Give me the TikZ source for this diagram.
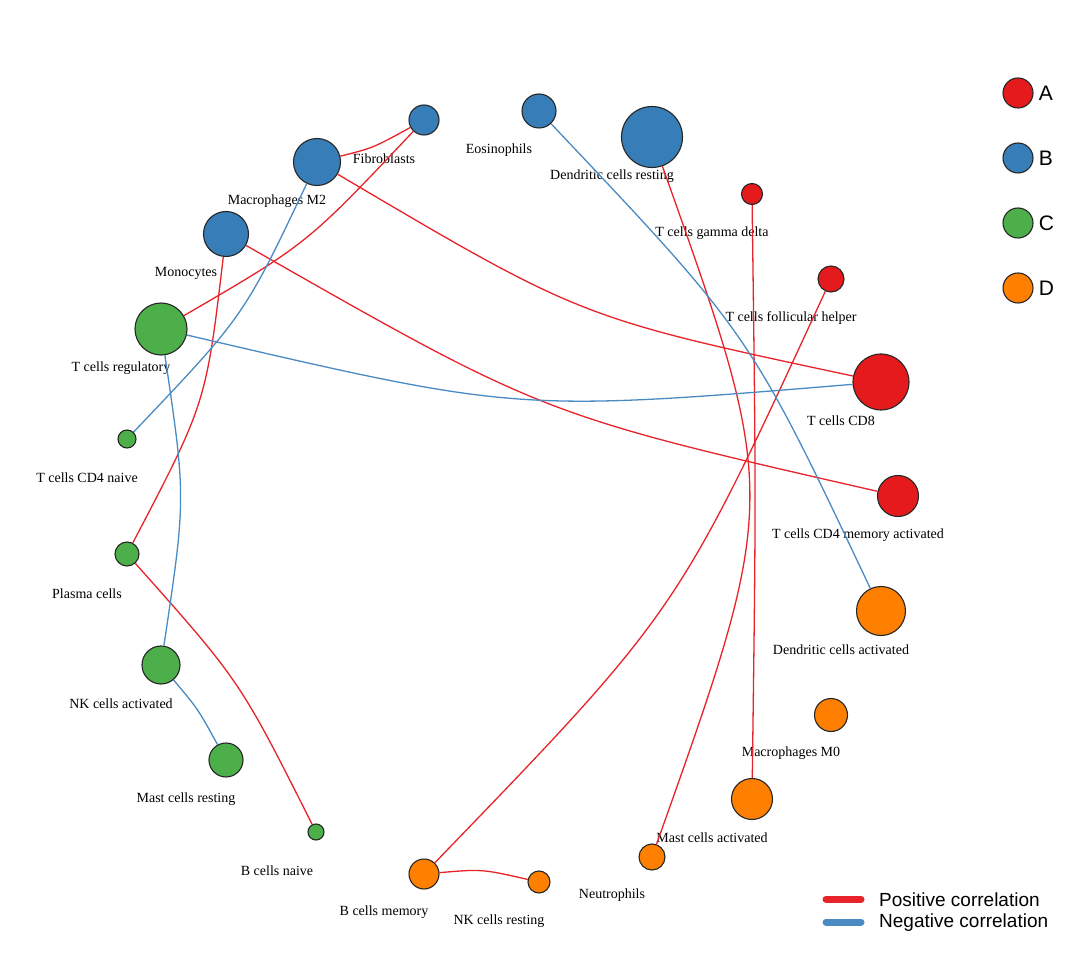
\documentclass[tikz,border=0pt]{standalone}
\usepackage{fontspec}
\setmainfont{Liberation Serif}
\newfontfamily\keyfont{Liberation Sans}
\usepackage{tikz}
\usetikzlibrary{positioning}
\definecolor{grpred}{HTML}{E41A1C}
\definecolor{grpblue}{HTML}{377EB8}
\definecolor{grpgreen}{HTML}{4DAF4A}
\definecolor{grporange}{HTML}{FF7F00}
\definecolor{posline}{HTML}{E8232A}
\definecolor{negline}{HTML}{4A8BC4}

\begin{document}
\begin{tikzpicture}[x=1pt, y=-1pt,
    cell/.style={circle, draw=black!85, fill=#1, line width=1.1pt, inner sep=0pt},
    lbl/.style={font=\fontsize{14}{16}\selectfont, inner sep=0pt},
    poslink/.style={draw=posline, line width=1.3pt},
    neglink/.style={draw=negline, line width=1.3pt},
    keytxt/.style={font=\keyfont\fontsize{21}{24}\selectfont, inner sep=0pt},
    keyline/.style={line width=7pt, line cap=round},
    keylbl/.style={font=\keyfont\fontsize{19}{22}\selectfont, inner sep=0pt, anchor=west}
]
\path[fill=white, use as bounding box] (0,0) rectangle (1080,968);

% cells round the ring
\node[cell=grpblue, minimum size=30pt] (fib) at (424,120) {};
\node[cell=grpblue, minimum size=47pt] (mtwo) at (317,162) {};
\node[cell=grpblue, minimum size=45pt] (mono) at (226,234) {};
\node[cell=grpgreen, minimum size=52pt] (treg) at (161,329) {};
\node[cell=grpgreen, minimum size=18pt] (cdnaive) at (127,439) {};
\node[cell=grpgreen, minimum size=24pt] (plasma) at (127,554) {};
\node[cell=grpgreen, minimum size=38pt] (nkact) at (161,665) {};
\node[cell=grpgreen, minimum size=34pt] (mastrest) at (226,760) {};
\node[cell=grpgreen, minimum size=16pt] (bnaive) at (316,832) {};
\node[cell=grporange, minimum size=30pt] (bmem) at (424,874) {};
\node[cell=grporange, minimum size=22pt] (nkrest) at (539,882) {};
\node[cell=grporange, minimum size=26pt] (neutro) at (652,857) {};
\node[cell=grporange, minimum size=41pt] (mastact) at (752,799) {};
\node[cell=grporange, minimum size=33pt] (mzero) at (831,715) {};
\node[cell=grporange, minimum size=49pt] (dcact) at (881,611) {};
\node[cell=grpred, minimum size=41pt] (cdmem) at (898,496) {};
\node[cell=grpred, minimum size=56pt] (cdeight) at (881,382) {};
\node[cell=grpred, minimum size=26pt] (tfh) at (831,279) {};
\node[cell=grpred, minimum size=21pt] (gd) at (752,194) {};
\node[cell=grpblue, minimum size=61pt] (dcrest) at (652,137) {};
\node[cell=grpblue, minimum size=34pt] (eos) at (539,111) {};

% names
\node[lbl] (fib-t) at (384,159) {Fibroblasts};
\node[lbl] (mtwo-t) at (277,201) {Macrophages M2};
\node[lbl] (mono-t) at (186,273) {Monocytes};
\node[lbl] (treg-t) at (121,368) {T cells regulatory};
\node[lbl] (cdnaive-t) at (87,478) {T cells CD4 naive};
\node[lbl] (plasma-t) at (87,594) {Plasma cells};
\node[lbl] (nkact-t) at (121,704) {NK cells activated};
\node[lbl] (mastrest-t) at (186,799) {Mast cells resting};
\node[lbl] (bnaive-t) at (277,871) {B cells naive};
\node[lbl] (bmem-t) at (384,912) {B cells memory};
\node[lbl] (nkrest-t) at (499,921) {NK cells resting};
\node[lbl] (neutro-t) at (612,895) {Neutrophils};
\node[lbl] (mastact-t) at (712,838) {Mast cells activated};
\node[lbl] (mzero-t) at (791,753) {Macrophages M0};
\node[lbl] (dcact-t) at (841,650) {Dendritic cells activated};
\node[lbl] (cdmem-t) at (858,535) {T cells CD4 memory activated};
\node[lbl] (cdeight-t) at (841,421) {T cells CD8};
\node[lbl] (tfh-t) at (791,318) {T cells follicular helper};
\node[lbl] (gd-t) at (712,233) {T cells gamma delta};
\node[lbl] (dcrest-t) at (612,176) {Dendritic cells resting};
\node[lbl] (eos-t) at (499,150) {Eosinophils};

% positive links
\draw[poslink] (mtwo) .. controls (373,148) .. (fib);
\draw[poslink] (treg) .. controls (307,244) .. (fib);
\draw[poslink] (mtwo) .. controls (581,318) .. (cdeight);
\draw[poslink] (mono) .. controls (543,415) .. (cdmem);
\draw[poslink] (mono) .. controls (206,403) .. (plasma);
\draw[poslink] (plasma) .. controls (240,681) .. (bnaive);
\draw[poslink] (dcrest) .. controls (780,497) .. (neutro);
\draw[poslink] (gd) .. controls (756,497) .. (mastact);
\draw[poslink] (tfh) .. controls (678,611) .. (bmem);
\draw[poslink] (bmem) .. controls (482,869) .. (nkrest);

% negative links
\draw[neglink] (mtwo) .. controls (244,316) .. (cdnaive);
\draw[neglink] (treg) .. controls (517,412) .. (cdeight);
\draw[neglink] (treg) .. controls (186,498) .. (nkact);
\draw[neglink] (nkact) .. controls (198,709) .. (mastrest);
\draw[neglink] (eos) .. controls (750,334) .. (dcact);

% group key
\node[cell=grpred, minimum size=30pt] (keyA) at (1018,93) {};
\node[cell=grpblue, minimum size=30pt] (keyB) at (1018,158) {};
\node[cell=grpgreen, minimum size=30pt] (keyC) at (1018,223) {};
\node[cell=grporange, minimum size=30pt] (keyD) at (1018,288) {};
\node[keytxt, right=5pt of keyA] (keyA-t) {A};
\node[keytxt, right=5pt of keyB] (keyB-t) {B};
\node[keytxt, right=5pt of keyC] (keyC-t) {C};
\node[keytxt, right=5pt of keyD] (keyD-t) {D};

% line key
\coordinate (posa) at (826,899);
\coordinate (posb) at (861,899);
\coordinate (nega) at (826,922);
\coordinate (negb) at (861,922);
\draw[keyline, posline] (posa) -- (posb);
\draw[keyline, negline] (nega) -- (negb);
\node[keylbl] (pos-t) at (879,900) {Positive correlation};
\node[keylbl] (neg-t) at (879,923) {Negative correlation};
\end{tikzpicture}
\end{document}
